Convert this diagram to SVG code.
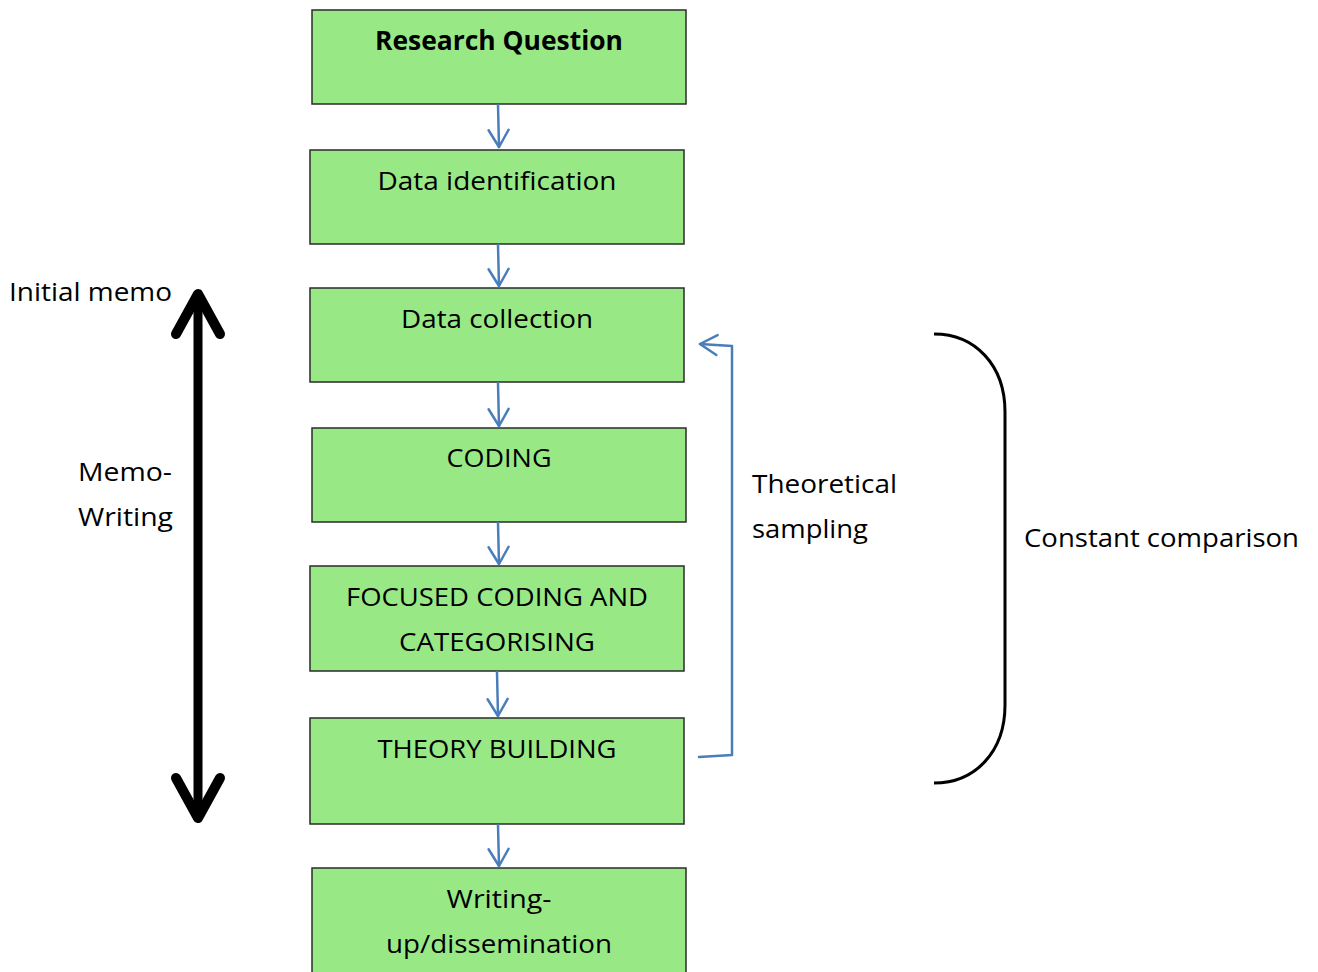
<svg xmlns="http://www.w3.org/2000/svg" width="1318" height="972" viewBox="0 0 1318 972">
<style>
.box{fill:#99e886;stroke:#2b2b2b;stroke-width:1.5}
.t{font-family:"Open Sans","Noto Sans",sans-serif;font-size:26px;fill:#000}
.c{text-anchor:middle}
.b{font-weight:bold}
.conn{fill:none;stroke:#4a7ebb;stroke-width:2.5;stroke-linecap:round;stroke-linejoin:round}
</style>
<defs>
<marker id="vh" markerWidth="22" markerHeight="24" viewBox="0 0 22 24" refX="19" refY="12" orient="auto" markerUnits="userSpaceOnUse">
<path d="M2,2 L19,12 L2,22" fill="none" stroke="#4a7ebb" stroke-width="2.5" stroke-linecap="round" stroke-linejoin="round"/>
</marker>
</defs>
<rect width="1318" height="972" fill="#fff"/>
<g id="n1"><rect class="box" x="312" y="10" width="374" height="94"/><text class="t c b" x="499" y="50" textLength="248" lengthAdjust="spacingAndGlyphs">Research Question</text></g>
<g id="n2"><rect class="box" x="310" y="150" width="374" height="94"/><text class="t c" x="497" y="190" textLength="239" lengthAdjust="spacingAndGlyphs">Data identification</text></g>
<g id="n3"><rect class="box" x="310" y="288" width="374" height="94"/><text class="t c" x="497" y="328" textLength="192" lengthAdjust="spacingAndGlyphs">Data collection</text></g>
<g id="n4"><rect class="box" x="312" y="428" width="374" height="94"/><text class="t c" x="499" y="467" textLength="105" lengthAdjust="spacingAndGlyphs">CODING</text></g>
<g id="n5"><rect class="box" x="310" y="566" width="374" height="105"/><text class="t c" x="497" y="606" textLength="302" lengthAdjust="spacingAndGlyphs">FOCUSED CODING AND</text><text class="t c" x="497" y="651" textLength="196" lengthAdjust="spacingAndGlyphs">CATEGORISING</text></g>
<g id="n6"><rect class="box" x="310" y="718" width="374" height="106"/><text class="t c" x="497" y="758" textLength="239" lengthAdjust="spacingAndGlyphs">THEORY BUILDING</text></g>
<g id="n7"><rect class="box" x="312" y="868" width="374" height="110"/><text class="t c" x="499" y="908" textLength="105" lengthAdjust="spacingAndGlyphs">Writing-</text><text class="t c" x="499" y="953" textLength="226" lengthAdjust="spacingAndGlyphs">up/dissemination</text></g>
<g id="connectors">
<path class="conn" d="M498,105 L499,147" marker-end="url(#vh)"/>
<path class="conn" d="M498,245 L499,286" marker-end="url(#vh)"/>
<path class="conn" d="M498,383 L499,426" marker-end="url(#vh)"/>
<path class="conn" d="M498,523 L499,564" marker-end="url(#vh)"/>
<path class="conn" d="M497,672 L498,716" marker-end="url(#vh)"/>
<path class="conn" d="M498,825 L499,866" marker-end="url(#vh)"/>
<path class="conn" d="M699,757 L732,755 L732,346 L700,344" marker-end="url(#vh)"/>
<g id="memo-arrow" fill="none" stroke="#000" stroke-linecap="round" stroke-linejoin="round">
<line x1="198" y1="296" x2="198" y2="816" stroke-width="9"/>
<path d="M176,334 L198,294 L220,334" stroke-width="10"/>
<path d="M176,778 L198,818 L220,778" stroke-width="10"/>
</g>
<path d="M934,334 C975,334 1005,365 1005,412 L1005,705 C1005,752 975,783 934,783" fill="none" stroke="#000" stroke-width="3"/>
</g>
<g id="labels">
<text class="t" x="9" y="301" textLength="163" lengthAdjust="spacingAndGlyphs">Initial memo</text>
<text class="t" x="78" y="481" textLength="94" lengthAdjust="spacingAndGlyphs">Memo-</text>
<text class="t" x="78" y="526" textLength="95" lengthAdjust="spacingAndGlyphs">Writing</text>
<text class="t" x="752" y="493" textLength="145" lengthAdjust="spacingAndGlyphs">Theoretical</text>
<text class="t" x="752" y="538" textLength="116" lengthAdjust="spacingAndGlyphs">sampling</text>
<text class="t" x="1024" y="547" textLength="275" lengthAdjust="spacingAndGlyphs">Constant comparison</text>
</g>
</svg>
